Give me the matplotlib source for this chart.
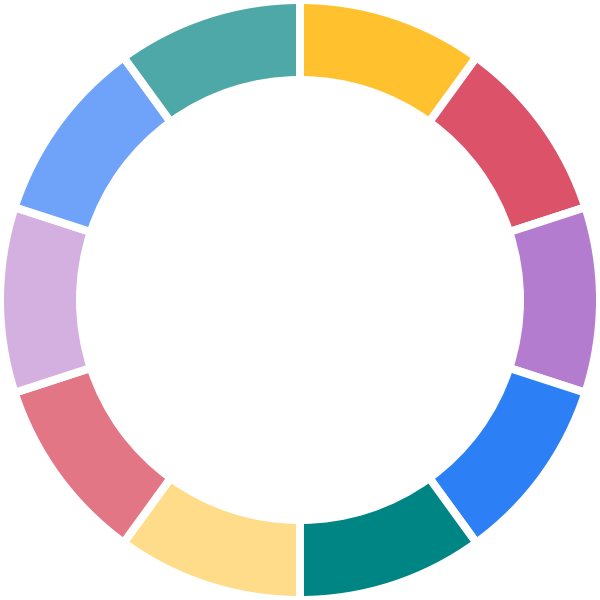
import matplotlib
matplotlib.use("Agg")
import matplotlib.pyplot as plt

# Data: ten equal segments, clockwise from the top
labels = ["A", "B", "C", "D", "E", "F", "G", "H", "I", "J"]
values = [10, 10, 10, 10, 10, 10, 10, 10, 10, 10]
colors = ["#FFC22E", "#DB5269", "#B47CCF", "#2D7FF5", "#008585",
          "#FFDC8A", "#E27684", "#D4B0E0", "#6EA3F9", "#4FA8A8"]

fig = plt.figure(figsize=(6, 6), dpi=100)
ax = fig.add_axes([0, 0, 1, 1])

ax.pie(values, colors=colors, startangle=90, counterclock=False,
       radius=1.0,
       wedgeprops=dict(width=80 / 300, edgecolor="white", linewidth=5.76))

ax.set_xlim(-1, 1)
ax.set_ylim(-1, 1)
ax.set_aspect("equal")
ax.axis("off")

fig.savefig("out.png", dpi=100, facecolor="white")
